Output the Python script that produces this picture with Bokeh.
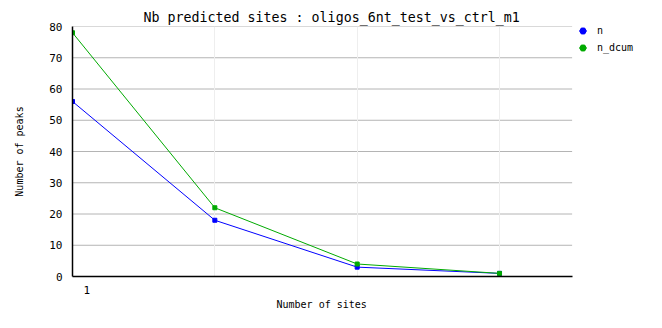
from bokeh.plotting import figure
from bokeh.models import Range1d, FixedTicker, Legend, LegendItem, Title
from bokeh.embed import file_html
from bokeh.resources import INLINE

x_sites = [1, 2, 3, 4]
n_values = [56, 18, 3, 1]
n_dcum_values = [78, 22, 4, 1]
y_ticks = [0, 10, 20, 30, 40, 50, 60, 70, 80]
x_tick_pos = [1.1]
x_tick_labels = ["1"]
X_END = 4.51

FONT = "DejaVu Sans Mono"
NAN = float("nan")

p = figure(width=662, height=328, output_backend="svg", toolbar_location=None,
           x_range=Range1d(1, 5.145), y_range=Range1d(0, 80),
           min_border_left=72, min_border_right=0, min_border_top=26, min_border_bottom=52)
p.outline_line_color = None
p.background_fill_color = "white"
p.border_fill_color = "white"

title = Title(text="Nb predicted sites : oligos_6nt_test_vs_ctrl_m1", align="left",
              offset=71, standoff=4, text_font=FONT, text_font_size="13.3px",
              text_font_style="normal", text_color="black")
p.add_layout(title, "above")

# grid
p.ygrid.visible = False
p.segment(x0=[1] * len(y_ticks[1:]), x1=[X_END] * len(y_ticks[1:]),
          y0=y_ticks[1:], y1=y_ticks[1:], line_color="#b4b4b4", line_width=1, level="underlay")
p.xgrid.ticker = FixedTicker(ticks=x_sites[1:])
p.xgrid.grid_line_color = "#eeeeee"

# axes
p.yaxis.ticker = FixedTicker(ticks=y_ticks)
p.yaxis.major_tick_line_color = None
p.yaxis.minor_tick_line_color = None
p.yaxis.axis_line_color = "black"
p.yaxis.axis_line_width = 1.5
p.yaxis.major_label_text_font = FONT
p.yaxis.major_label_text_font_size = "11px"
p.yaxis.major_label_text_color = "black"
p.yaxis.major_label_standoff = 4
p.yaxis.axis_label = "Number of peaks"
p.yaxis.axis_label_text_font = FONT
p.yaxis.axis_label_text_font_size = "10px"
p.yaxis.axis_label_text_font_style = "normal"
p.yaxis.axis_label_text_color = "black"
p.yaxis.axis_label_standoff = 21

p.xaxis.ticker = FixedTicker(ticks=x_tick_pos)
p.xaxis.major_label_overrides = {x_tick_pos[0]: x_tick_labels[0]}
p.xaxis.bounds = (1, X_END)
p.xaxis.major_tick_line_color = None
p.xaxis.minor_tick_line_color = None
p.xaxis.axis_line_color = "black"
p.xaxis.axis_line_width = 1.5
p.xaxis.major_label_text_font = FONT
p.xaxis.major_label_text_font_size = "11px"
p.xaxis.major_label_text_color = "black"
p.xaxis.major_label_standoff = 3

xlabel = Title(text="Number of sites", align="left", offset=204, standoff=0,
               text_font=FONT, text_font_size="10px", text_font_style="normal",
               text_color="black")
p.add_layout(xlabel, "below")

blue = "#0000ff"
green = "#00aa00"

p.line(x_sites, n_values, line_color=blue, line_width=1)
p.line(x_sites, n_dcum_values, line_color=green, line_width=1)
p.scatter(x_sites, n_values, marker="square", size=4, color=blue)
p.scatter(x_sites, n_dcum_values, marker="square", size=4, color=green)

leg_n = p.scatter([NAN], [NAN], marker="hex", size=8, color=blue)
leg_d = p.scatter([NAN], [NAN], marker="hex", size=8, color=green)

legend = Legend(items=[LegendItem(label="n", renderers=[leg_n], index=0),
                       LegendItem(label="n_dcum", renderers=[leg_d], index=0)],
                location=(502, 220), border_line_color=None, background_fill_alpha=0,
                label_text_font=FONT, label_text_font_size="10px", label_text_color="black",
                glyph_width=17, glyph_height=17, spacing=-4, padding=0, margin=0,
                label_standoff=6, label_height=10)
p.add_layout(legend)

open("out.html", "w").write(file_html(p, INLINE))
